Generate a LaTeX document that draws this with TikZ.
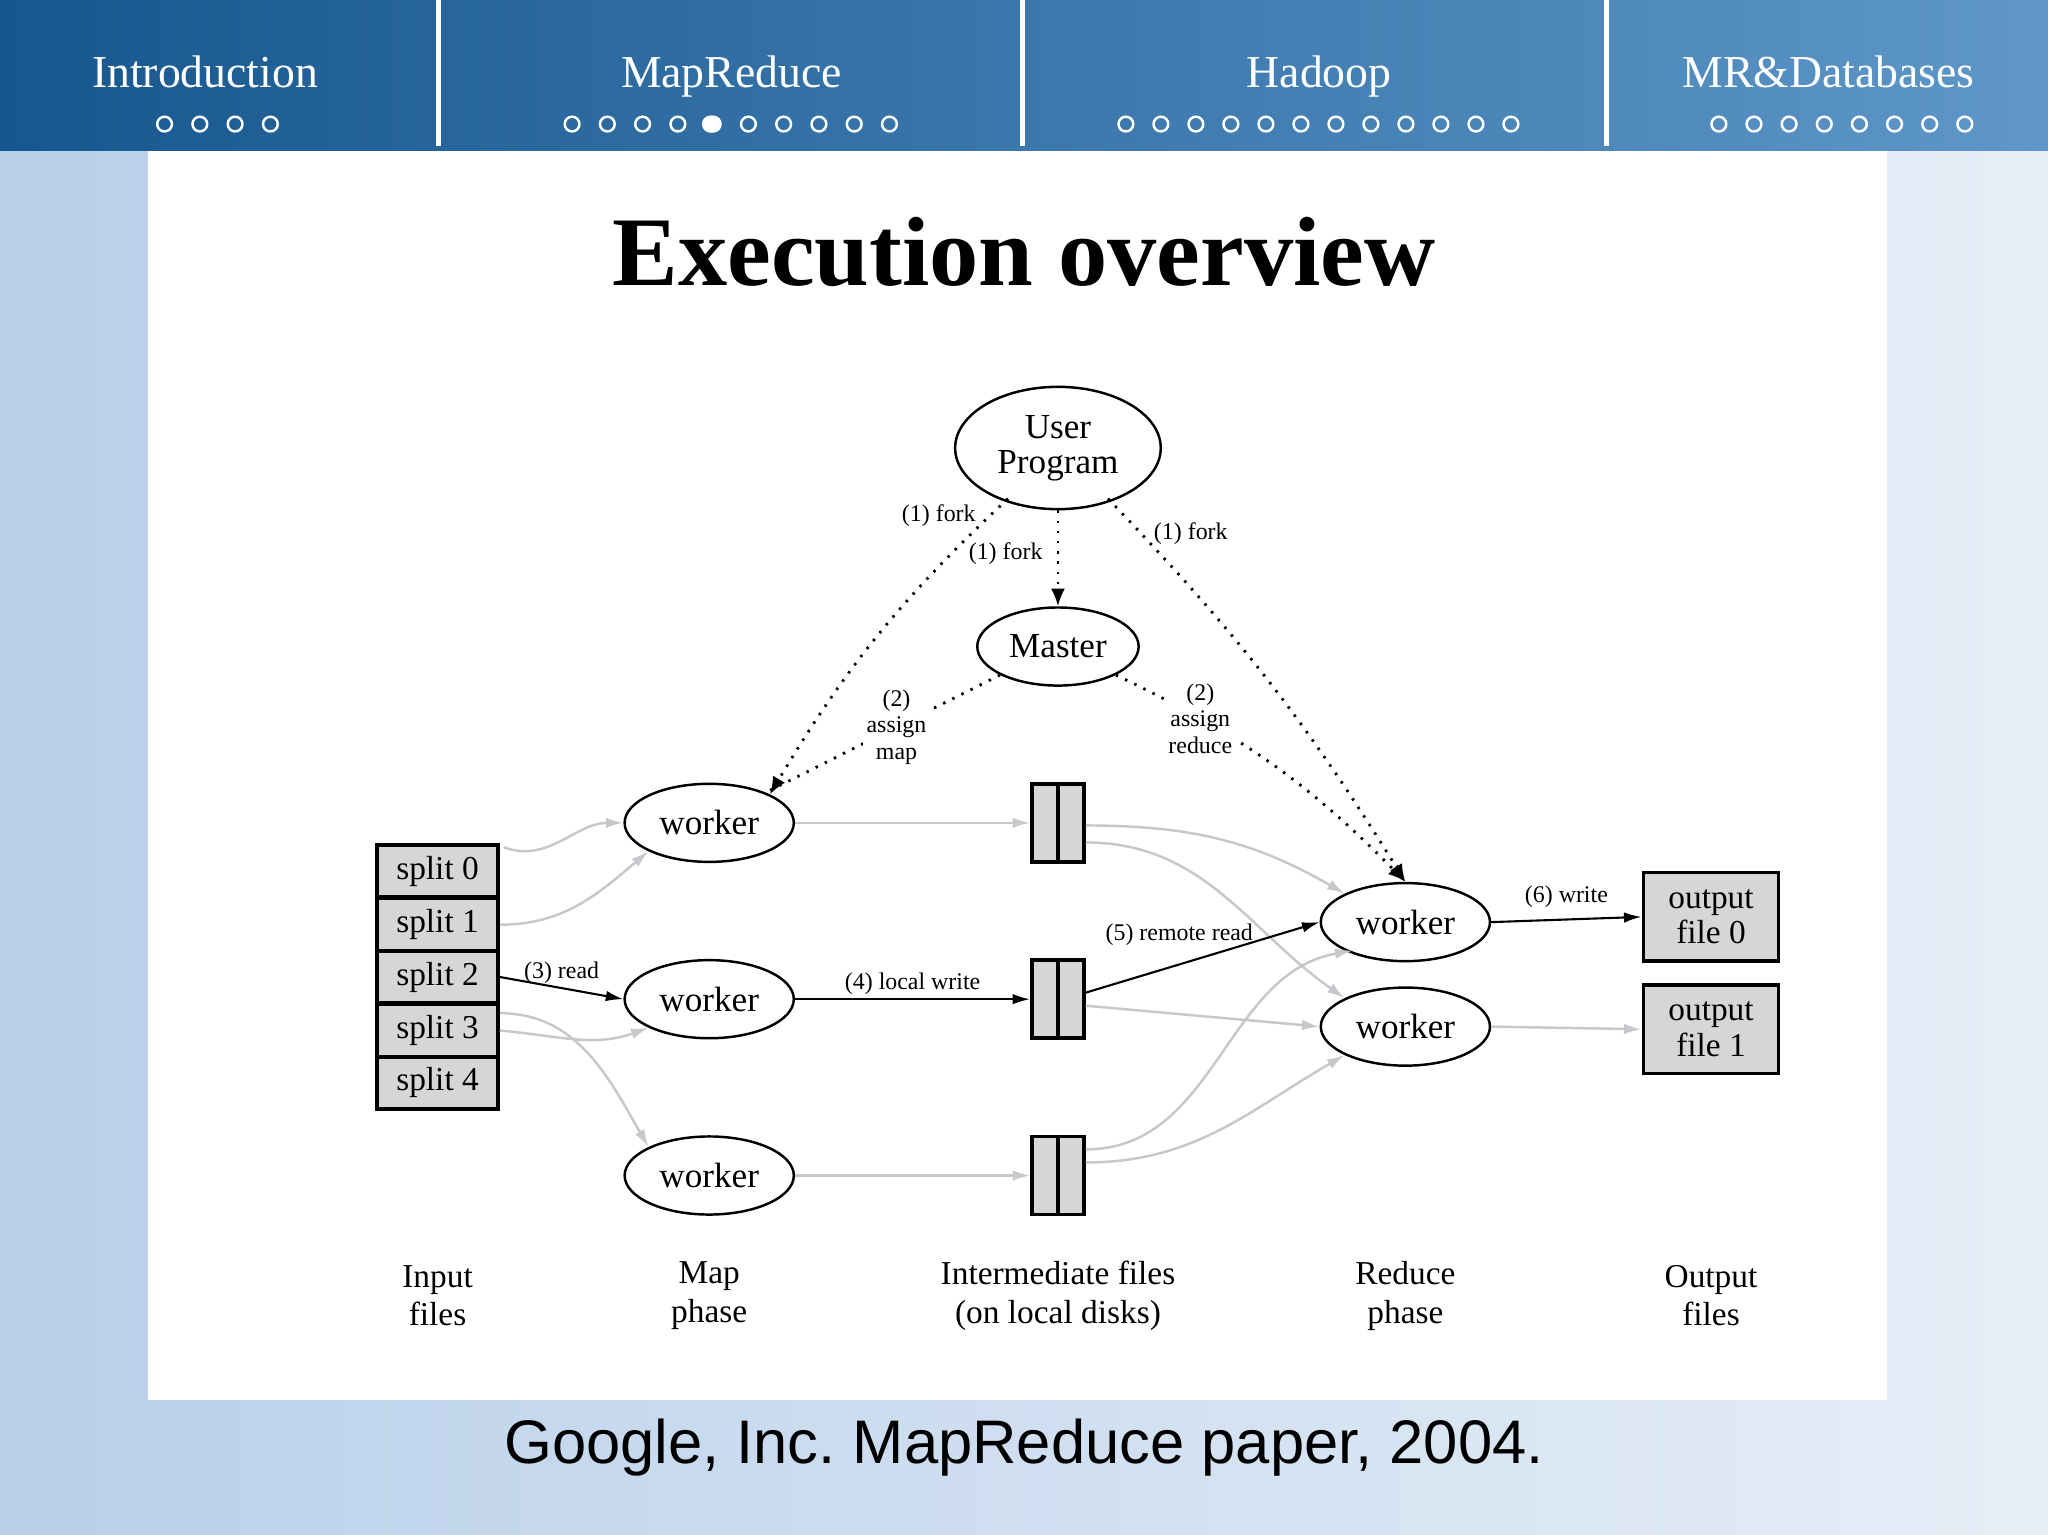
\documentclass[tikz,border=0pt]{standalone}
\usepackage{fontspec}
\setmainfont{Liberation Serif}
\newfontfamily\capfont{Liberation Sans}
\usetikzlibrary{shapes.geometric,arrows.meta,calc}
\definecolor{barL}{HTML}{17578F}
\definecolor{barR}{HTML}{5E97C8}
\definecolor{bgL}{HTML}{B9D0EA}
\definecolor{bgR}{HTML}{E6EEF7}
\definecolor{boxg}{HTML}{D6D6D6}
\definecolor{lg}{HTML}{C8C8CC}
\tikzset{
 ell/.style={ellipse,draw,line width=0.7pt,fill=white,inner sep=0pt,font=\fontsize{10}{11}\selectfont},
 splitbox/.style={draw,line width=1pt,fill=boxg,minimum width=93*0.3703pt,minimum height=40*0.3703pt,inner sep=0pt,font=\fontsize{9.5}{11}\selectfont},
 outbox/.style={draw,line width=1pt,fill=boxg,minimum width=104*0.3703pt,minimum height=68*0.3703pt,inner sep=0pt,align=center,font=\fontsize{9.5}{10}\selectfont},
 filebox/.style={draw,line width=1pt,fill=boxg,minimum width=40*0.3703pt,minimum height=60*0.3703pt,inner sep=0pt},
 lab/.style={font=\fontsize{6.8}{7.5}\selectfont,align=center,inner sep=1pt},
 bot/.style={font=\fontsize{9.5}{11}\selectfont,align=center},
 dot/.style={circle,draw=white,line width=0.7pt,minimum size=4.2pt,inner sep=0pt},
 hdr/.style={text=white,font=\fontsize{13}{14}\selectfont,anchor=base},
 dotted arr/.style={dash pattern=on 0.7pt off 2.2pt,line width=0.8pt,-{Latex[length=5pt,width=4pt]}},
 blk/.style={line width=0.6pt,-{Latex[length=5pt,width=3pt]}},
 gr/.style={draw=lg,line width=0.7pt,-{Latex[length=5pt,width=3pt]}},
}
\begin{document}
\frenchspacing
\begin{tikzpicture}[x=0.013061cm,y=-0.013061cm]
\useasboundingbox (0,0) rectangle (1568,1175);
\shade[left color=bgL,right color=bgR] (0,0) rectangle (1568,1175);
\fill[white] (113,115) rectangle (1445,1072);
\shade[left color=barL,right color=barR] (0,0) rectangle (1568,115);
\foreach \x in {336,783,1230} \fill[white] (\x-2,0) rectangle (\x+2,112);
\node[hdr] (h1) at (157,67) {Introduction};
\node[hdr] (h2) at (560,67) {MapReduce};
\node[hdr] (h3) at (1010,67) {Hadoop};
\node[hdr] (h4) at (1400,67) {MR\&Databases};
\foreach \i in {0,...,3} \node[dot] at (126+27*\i,95) {};
\foreach \i in {0,...,9} \node[dot] at (438+27*\i,95) {};
\node[dot,fill=white] at (544,95) {};
\foreach \i in {0,...,11} \node[dot] at (862+26.8*\i,95) {};
\foreach \i in {0,...,7} \node[dot] at (1316+26.9*\i,95) {};
\node[font=\bfseries\fontsize{28}{30}\selectfont] (title) at (784,193) {Execution overview};
\node[font=\capfont\fontsize{17.5}{20}\selectfont] (cap) at (784,1108) {Google, Inc. MapReduce paper, 2004.};

% nodes
\node[ell,minimum width=158*0.3703pt,minimum height=94*0.3703pt,align=center] (up) at (810,343) {User\\[-1pt]Program};
\node[ell,minimum width=124*0.3703pt,minimum height=60*0.3703pt] (ms) at (810,495) {Master};
\foreach \n/\y in {m1/630,m2/765,m3/900}
  \node[ell,minimum width=130*0.3703pt,minimum height=60*0.3703pt] (\n) at (543,\y) {worker};
\foreach \n/\y in {r1/706,r2/786}
  \node[ell,minimum width=130*0.3703pt,minimum height=60*0.3703pt] (\n) at (1076,\y) {worker};
\foreach \i/\y in {0/667,1/708,2/748,3/789,4/829}
  \node[splitbox] (s\i) at (335,\y) {split \i};
\foreach \n/\y in {f1/630,f2/765,f3/900}{
  \node[filebox] (\n) at (810,\y) {};
  \draw[line width=1pt] (\n.north) -- (\n.south);}
\node[outbox] (o0) at (1310,702) {output\\file 0};
\node[outbox] (o1) at (1310,788) {output\\file 1};

% control
\draw[dotted arr] ($(up.south west)+(18,5)$) to[bend right=8] node[lab,pos=0.1,above left=-1pt] {(1) fork} (m1.north east);
\draw[dotted arr] (up) -- node[lab,pos=0.45,left=3pt] {(1) fork} (ms);
\draw[dotted arr] ($(up.south east)+(-18,5)$) to[bend left=6] node[lab,pos=0.12,above right=-1pt] {(1) fork} (r1.north);
\draw[dash pattern=on 0.7pt off 2.2pt,line width=0.8pt] (ms.south west) -- node[lab,fill=white,pos=0.45] {(2)\\assign\\map} ($(m1.north east)+(0,-3)$);
\draw[dotted arr] (ms.south east) to[bend left=10] node[lab,fill=white,pos=0.25] {(2)\\assign\\reduce} (r1.north);

% data
\draw[gr] ($(s0.north east)+(3,3)$) to[out=-20,in=180] (m1.west);
\draw[gr] (s1.east) to[out=0,in=-140] (m1.south west);
\draw[blk] (s2.east) -- node[lab,above] {(3) read} (m2.west);
\draw[gr] (s3.east) to[out=-5,in=-160] (m2.south west);
\draw[gr] ($(s3.north east)+(0,8)$) to[out=0,in=120] (m3.north west);
\draw[gr] (m1) -- (f1);
\draw[blk] (m2) -- node[lab,above] {(4) local write} (f2);
\draw[gr] (m3) -- (f3);
\draw[gr] ($(f1.east)+(0,2)$) to[out=0,in=150] (r1.north west);
\draw[gr] ($(f1.east)+(0,15)$) to[out=0,in=145] (r2.north west);
\draw[blk] ($(f2.east)+(0,-5)$) -- node[lab,above=4pt,pos=0.4] {(5) remote read} (r1.west);
\draw[gr] ($(f2.east)+(0,5)$) -- (r2.west);
\draw[gr] ($(f3.east)+(0,-20)$) to[out=0,in=190] ($(r1.south west)+(6,0)$);
\draw[gr] ($(f3.east)+(0,-10)$) to[out=0,in=210] (r2.south west);
\draw[blk] (r1.east) -- node[lab,above=2pt] {(6) write} (o0.west);
\draw[gr] (r2.east) -- (o1.west);

% bottom labels
\node[bot] (b1) at (335,992) {Input\\files};
\node[bot] (b2) at (543,992) {Map\\phase};
\node[bot] (b3) at (810,992) {Intermediate files\\(on local disks)};
\node[bot] (b4) at (1076,992) {Reduce\\phase};
\node[bot] (b5) at (1310,992) {Output\\files};
\end{tikzpicture}
\end{document}
